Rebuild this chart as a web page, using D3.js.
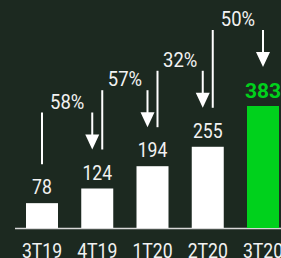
<!DOCTYPE html>
<html>
<head>
<meta charset="utf-8">
<script src="https://cdn.jsdelivr.net/npm/d3@7"></script>
<style>
  body { margin: 0; background: #1c2920; }
  svg { display: block; }
  text { font-family: Roboto, "DejaVu Sans", sans-serif; }
</style>
</head>
<body>
<svg width="281" height="258"></svg>
<script>
var categories = ['3T19', '4T19', '1T20', '2T20', '3T20'];
var values = [78, 124, 194, 255, 383];
var growth = ['58%', '57%', '32%', '50%'];
var highlight = '3T20';

var svg = d3.select('svg');
svg.append('rect').attr('width', 281).attr('height', 258).attr('fill', '#1c2920');

var scaleX = d3.scalePoint().domain(categories).range([42, 263]);
var scaleY = d3.scaleLinear().domain([0, 383]).range([228, 106]);
var barW = 32;
var green = '#00d11c';
var white = '#ffffff';

// axis line
svg.append('line')
    .attr('x1', 15).attr('x2', 281)
    .attr('y1', 228.5).attr('y2', 228.5)
    .attr('stroke', '#d8d8d8')
    .attr('stroke-width', 1.5);

// bars
svg.selectAll('rect.bar')
    .data(categories)
    .enter()
    .append('rect')
    .attr('class', 'bar')
    .attr('x', function(d){ return scaleX(d) - barW / 2; })
    .attr('y', function(d, i){ return scaleY(values[i]); })
    .attr('width', barW)
    .attr('height', function(d, i){ return scaleY(0) - scaleY(values[i]); })
    .attr('fill', function(d){ return d === highlight ? green : white; });

// condensed-looking text helper
function label(x, y, txt, size, color, sx, weight){
    svg.append('g')
        .attr('transform', 'translate(' + x + ',' + y + ') scale(' + (sx || 0.86) + ',1)')
        .append('text')
        .attr('text-anchor', 'middle')
        .attr('font-size', size)
        .attr('font-weight', weight || 'normal')
        .attr('fill', color)
        .text(txt);
}

// value labels
categories.forEach(function(c, i){
    if (c === highlight) {
        label(scaleX(c), scaleY(values[i]) - 8, values[i], 21, green, 1, 'bold');
    } else {
        label(scaleX(c), scaleY(values[i]) - 9, values[i], 20.5, '#f2f2f2');
    }
    label(scaleX(c), 257.5, c, 21, '#f2f2f2', 0.84);
});

// connectors
function lineEnd(i){ return scaleY(values[i]) - 9 - 30; }
var last = categories.length - 1;
growth.forEach(function(g, i){
    var xl = scaleX(categories[i]) + (i > 0 ? 5 : 0);
    var xa = scaleX(categories[i + 1]) - (i + 1 < last ? 5 : 0);
    var tip = lineEnd(i + 1);
    var top = tip - 37;
    svg.append('line')
        .attr('x1', xl).attr('x2', xl)
        .attr('y1', top).attr('y2', lineEnd(i))
        .attr('stroke', white).attr('stroke-width', 2);
    svg.append('line')
        .attr('x1', xa).attr('x2', xa)
        .attr('y1', top).attr('y2', tip - 12)
        .attr('stroke', white).attr('stroke-width', 2);
    svg.append('path')
        .attr('d', 'M' + (xa - 7) + ',' + (tip - 15) + 'L' + (xa + 7) + ',' + (tip - 15) + 'L' + xa + ',' + tip + 'Z')
        .attr('fill', white);
    label((xl + xa) / 2, top - 4, g, 20.5, '#f2f2f2', 0.9);
});
</script>
</body>
</html>
